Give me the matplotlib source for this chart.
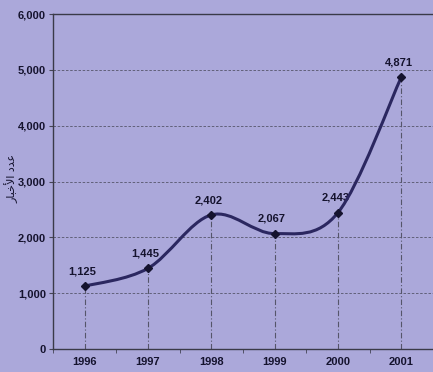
import matplotlib
matplotlib.use("Agg")
import matplotlib.pyplot as plt
from matplotlib.path import Path
from matplotlib.patches import PathPatch

# بيانات عدد الأخبار حسب السنة
years = ['1996', '1997', '1998', '1999', '2000', '2001']
counts = [1125, 1445, 2402, 2067, 2443, 4871]
yticks = [0, 1000, 2000, 3000, 4000, 5000, 6000]

bg = '#aba8da'
line_col = '#2b2760'
txt_col = '#15132e'
narrow = ['Liberation Sans Narrow', 'Liberation Sans']

# "عدد الأخبار" بأشكال العرض العربية، بالترتيب المرئي
ylabel = '\uFEAD\uFE8E\uFE92\uFEA7\uFEF7\uFE8D \uFEA9\uFEAA\uFECB'

fig = plt.figure(figsize=(4.33, 3.72), dpi=100, facecolor=bg)
ax = fig.add_axes([53 / 433, 1 - 349 / 372, 380 / 433, 335 / 372])
ax.set_facecolor(bg)

x = list(range(len(years)))

# منحنى ناعم (بيزيه على طريقة إكسل)
pts = list(zip(x, counts))
verts = [pts[0]]
codes = [Path.MOVETO]
n = len(pts)
for i in range(n - 1):
    p0 = pts[i - 1] if i > 0 else pts[i]
    p1 = pts[i]
    p2 = pts[i + 1]
    p3 = pts[i + 2] if i + 2 < n else pts[i + 1]
    c1 = (p1[0] + (p2[0] - p0[0]) / 6, p1[1] + (p2[1] - p0[1]) / 6)
    c2 = (p2[0] - (p3[0] - p1[0]) / 6, p2[1] - (p3[1] - p1[1]) / 6)
    verts += [c1, c2, p2]
    codes += [Path.CURVE4] * 3
ax.add_patch(PathPatch(Path(verts, codes), facecolor='none', edgecolor=line_col,
                       lw=2.2, zorder=4, capstyle='round'))
ax.plot(x, counts, ls='none', marker='D', ms=4.5, color=txt_col, zorder=5)

# خطوط عمودية من النقاط إلى المحور
for xi, v in zip(x, counts):
    ax.plot([xi, xi], [0, v], color='#55556a', lw=0.8, ls=(0, (5, 2, 1, 2)), zorder=2)

for xi, v in zip(x, counts):
    ax.annotate(f'{v:,}', (xi, v), xytext=(-2, 7), textcoords='offset points',
                ha='center', va='bottom', fontsize=8, fontweight='bold',
                family=narrow, color=txt_col)

ax.set_xlim(-0.5, 5.5)
ax.set_ylim(0, 6000)
ax.set_yticks(yticks)
ax.set_yticklabels([f'{t:,}' for t in yticks], fontsize=8, fontweight='bold',
                   family=narrow, color=txt_col)
ax.set_xticks(x)
ax.set_xticklabels(years, fontsize=8, fontweight='bold', family=narrow, color=txt_col)
ax.set_xticks([i + 0.5 for i in range(-1, 6)], minor=True)
ax.tick_params(axis='x', which='major', length=0, pad=6)
ax.tick_params(axis='x', which='minor', length=3, color='#444455', direction='out')
ax.tick_params(axis='y', length=3, color='#444455', pad=2)

ax.yaxis.grid(True, color='#55556a', lw=0.6, ls=(0, (3, 2)))
ax.set_axisbelow(True)
for s in ['left', 'bottom', 'top']:
    ax.spines[s].set_color('#3a3a48')
    ax.spines[s].set_linewidth(1.0)
ax.spines['right'].set_visible(False)

ax.set_ylabel(ylabel, fontsize=8, family='DejaVu Sans', color=txt_col)
ax.yaxis.set_label_coords(-0.09, 0.51)

fig.savefig('out.png', dpi=100, facecolor=bg)
